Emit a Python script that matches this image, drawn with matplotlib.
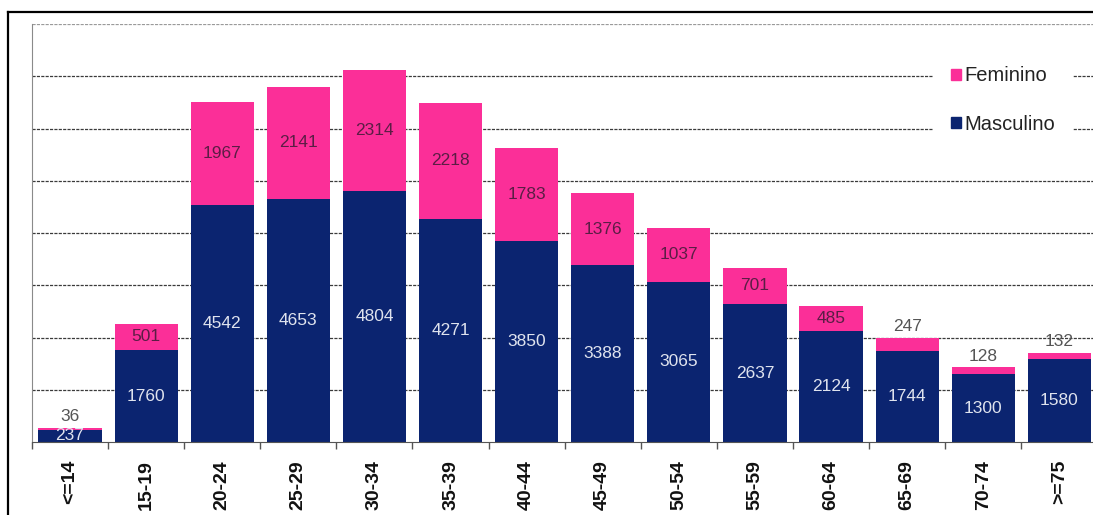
import numpy as np
import matplotlib.pyplot as plt
from matplotlib.patches import Patch
from matplotlib.lines import Line2D

# age groups and counts
faixas = ['<=14', '15-19', '20-24', '25-29', '30-34', '35-39', '40-44',
          '45-49', '50-54', '55-59', '60-64', '65-69', '70-74', '>=75']
masculino = [237, 1760, 4542, 4653, 4804, 4271, 3850,
             3388, 3065, 2637, 2124, 1744, 1300, 1580]
feminino = [36, 501, 1967, 2141, 2314, 2218, 1783,
            1376, 1037, 701, 485, 247, 128, 132]

navy = '#0B2470'
pink = '#FB2F98'
narrow = ['Liberation Sans Narrow', 'Liberation Sans', 'DejaVu Sans']

W, H = 1093, 515
fig = plt.figure(figsize=(W / 100, H / 100), dpi=100)
ax = fig.add_axes([32 / W, 73 / H, 14 * 76.1 / W, 418 / H])

x = np.arange(len(faixas))
ax.bar(x, masculino, width=0.83, color=navy, zorder=2)
ax.bar(x, feminino, bottom=masculino, width=0.83, color=pink, zorder=2)

ax.set_xlim(-0.5, len(faixas) - 0.5)
ax.set_ylim(0, 8000)

# value labels
for i in x:
    m, f = masculino[i], feminino[i]
    ax.text(i, m / 2, str(m), ha='center', va='center', fontsize=12.5,
            color='#dfe3ee', family=narrow, zorder=3)
    if f >= 400:
        ax.text(i, m + f / 2, str(f), ha='center', va='center', fontsize=12.5,
                color='#5b1d45', family=narrow, zorder=3)
    else:
        ax.annotate(str(f), (i, m + f), xytext=(0, 8), textcoords='offset points',
                    ha='center', va='center', fontsize=12.5, color='#555555',
                    family=narrow, zorder=3)

# gridlines
ax.set_yticks(range(1000, 8000, 1000))
ax.yaxis.grid(True, color='#3a3a3a', linestyle=(0, (2.5, 1)), linewidth=0.9)
ax.axhline(8000, color='#9a9a9a', linestyle=(0, (2.5, 1)), linewidth=0.9, zorder=1)
ax.set_axisbelow(True)
ax.tick_params(axis='y', length=0, labelleft=False)

# x ticks: marks between groups, labels at centers
ax.set_xticks(np.arange(len(faixas) + 1) - 0.5)
ax.set_xticklabels([])
ax.tick_params(axis='x', which='major', length=5, width=1, color='#555555')
ax.set_xticks(x, minor=True)
ax.set_xticklabels(faixas, minor=True, rotation=90, fontsize=14,
                   family=narrow, color='#111111', fontweight='bold')
ax.tick_params(axis='x', which='minor', length=0, pad=13)

for s in ['top', 'right']:
    ax.spines[s].set_visible(False)
ax.spines['left'].set_color('#8a8a8a')
ax.spines['bottom'].set_color('#555555')

# legend
handles = [Patch(color=pink, label='Feminino'), Patch(color=navy, label='Masculino')]
leg = fig.legend(handles=handles, loc='center', bbox_to_anchor=(1003 / W, 1 - 100 / H),
                 frameon=True, facecolor='white', edgecolor='none',
                 framealpha=1, handlelength=0.5, handleheight=0.5,
                 handletextpad=0.15, labelspacing=1.45, borderpad=0.9,
                 prop={'family': 'Liberation Sans', 'size': 14.5})
for t in leg.get_texts():
    t.set_color('#222222')

# outer frame
fig.add_artist(Line2D([8 / W, 1], [1 - 12 / H, 1 - 12 / H], color='black', lw=1.6))
fig.add_artist(Line2D([8 / W, 8 / W], [0, 1 - 12 / H], color='black', lw=1.6))

fig.savefig('out.png', dpi=100)
